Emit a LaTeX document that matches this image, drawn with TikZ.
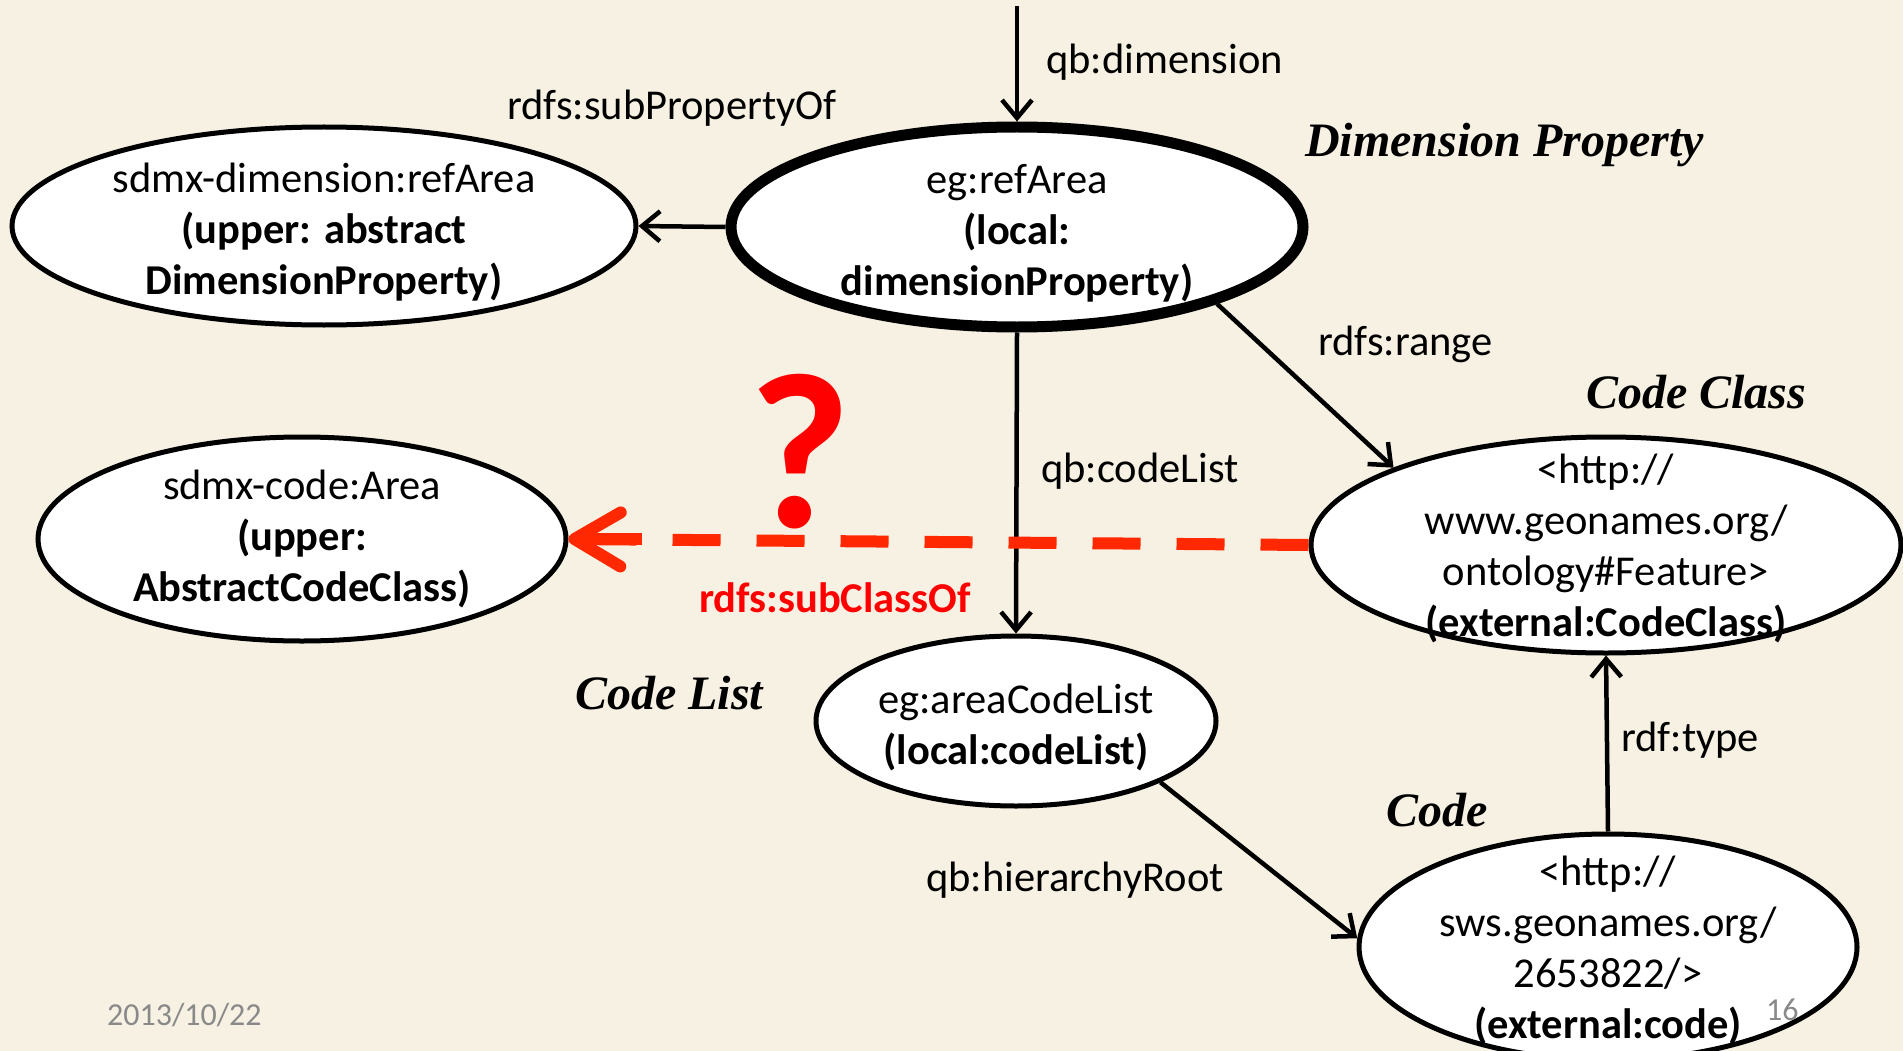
\documentclass[tikz,border=0pt]{standalone}
\usepackage{fontspec}
\setmainfont{Carlito}
\newfontfamily\capfont{Liberation Serif}
\usetikzlibrary{shapes.geometric,arrows.meta}

\definecolor{paper}{RGB}{246,241,227}
\definecolor{alarm}{RGB}{255,0,0}
\definecolor{dashred}{RGB}{255,40,0}
\definecolor{footgray}{RGB}{137,137,137}

\begin{document}
\begin{tikzpicture}[x=1pt,y=-1pt,
  oval/.style={ellipse, draw=black, fill=white, line width=5pt, inner sep=0pt},
  body/.style={align=center, inner sep=0pt, yshift=-6pt, font=\fontsize{42.5}{51}\selectfont},
  lbl/.style={anchor=west, inner sep=0pt, yshift=-4pt, font=\fontsize{42.5}{51}\selectfont},
  role/.style={anchor=west, inner sep=0pt, font=\capfont\bfseries\itshape\fontsize{48}{56}\selectfont},
  link/.style={line width=4.5pt, -{Straight Barb[length=18pt,width=30pt,line width=4.5pt]}},
  foot/.style={anchor=west, inner sep=0pt, text=footgray, font=\fontsize{32}{38}\selectfont}]

% canvas
\fill[paper] (0,0) rectangle (1903,1051);
\useasboundingbox (0,0) rectangle (1903,1051);

% ellipses
\node[oval, minimum width=624pt, minimum height=198pt] (A) at (324,226) {};
\node[oval, line width=11pt, minimum width=572pt, minimum height=200pt] (B) at (1017,227) {};
\node[oval, minimum width=528pt, minimum height=204pt] (C) at (302,539) {};
\node[oval, minimum width=590pt, minimum height=216pt] (D) at (1606,545) {};
\node[oval, minimum width=400pt, minimum height=170pt] (E) at (1016,721) {};
\node[oval, minimum width=498pt, minimum height=226pt] (F) at (1608,947) {};

% free end of the incoming dimension link
\coordinate (top) at (1017,6);

% connectors
\draw[link] (top) -- (B.north);
\draw[link] (B.west) -- (A.east);
\draw[link] (B.south) -- (E.north);
\draw[link] (B.-21) -- (D.160);
\draw[link] (F.north) -- (D.south);
\draw[link] (E.-23) -- (F.178);

% the questioned subclass link: dashed shaft, solid stub and open head
\draw[dashred, line width=12pt, dash pattern=on 48pt off 36pt,
      -{Straight Barb[length=46pt,width=54pt,line width=12pt,round]}]
  (D.west) -- (C.east);
\draw[dashred, line width=12pt] ([xshift=10pt]C.east) -- ([xshift=73pt]C.east);

% ellipse texts
\node[body] (At) at (A) {sdmx-dimension:refArea\\\textbf{(upper: abstract}\\\textbf{DimensionProperty)}};
\node[body] (Bt) at (B) {eg:refArea\\\textbf{(local:}\\\textbf{dimensionProperty)}};
\node[body, yshift=6pt] (Ct) at (C) {sdmx-code:Area\\\textbf{(upper:}\\\textbf{AbstractCodeClass)}};
\node[body, yshift=3pt] (Dt) at (D) {<http://\\www.geonames.org/\\ontology\#Feature>\\\textbf{(external:CodeClass)}};
\node[body] (Et) at (E) {eg:areaCodeList\\\textbf{(local:codeList)}};
\node[body, yshift=3pt] (Ft) at (F) {<http://\\sws.geonames.org/\\2653822/>\\\textbf{(external:code)}};

% connector labels
\node[lbl] (l1) at (1046,58) {qb:dimension};
\node[lbl] (l2) at (507,104) {rdfs:subPropertyOf};
\node[lbl] (l3) at (1318,340) {rdfs:range};
\node[lbl] (l4) at (1041,467) {qb:codeList};
\node[lbl] (l5) at (1621,736) {rdf:type};
\node[lbl] (l6) at (926,876) {qb:hierarchyRoot};
\node[lbl, text=alarm, font=\bfseries\fontsize{42.5}{51}\selectfont] (l7) at (699,594) {rdfs:subClassOf};
\node[inner sep=0pt, text=alarm, font=\bfseries\fontsize{222}{230}\selectfont] (q) at (800,452) {?};

% role captions
\node[role] (r1) at (1305,145) {Dimension Property};
\node[role] (r2) at (1586,392) {Code Class};
\node[role] (r3) at (575,693) {Code List};
\node[role] (r4) at (1386,810) {Code};

% footer
\node[foot] (date) at (107,1015) {2013/10/22};
\node[foot] (page) at (1766,1010) {16};
\end{tikzpicture}
\end{document}
